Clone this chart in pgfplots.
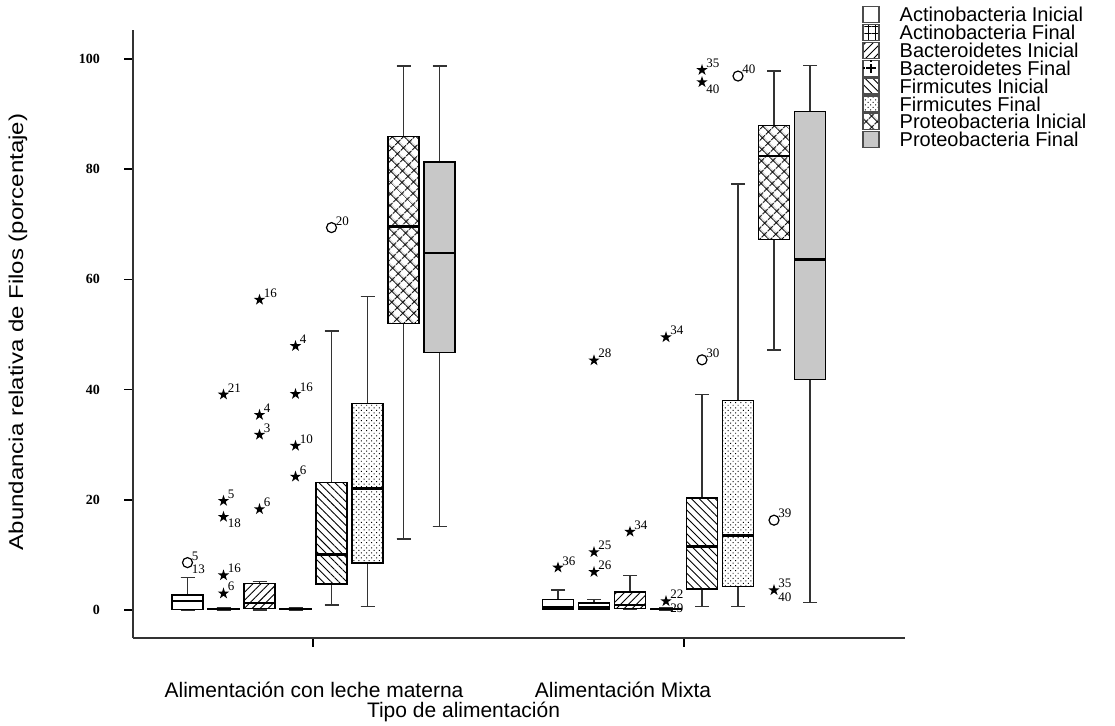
\documentclass[border=0pt]{standalone}
\usepackage{pgfplots}
\pgfplotsset{compat=1.18}
\usepackage{pgfplotstable}
\usepgfplotslibrary{statistics}
\usetikzlibrary{patterns,patterns.meta}
\usepackage{fontspec}
\setmainfont{Liberation Sans}
\newfontfamily\serif{Liberation Serif}

\pgfdeclareplotmark{fstar}{%
 \pgfpathmoveto{\pgfpoint{0pt}{\pgfplotmarksize}}%
 \pgfpathlineto{\pgfpoint{-0.2245\pgfplotmarksize}{0.309\pgfplotmarksize}}%
 \pgfpathlineto{\pgfpoint{-0.951\pgfplotmarksize}{0.309\pgfplotmarksize}}%
 \pgfpathlineto{\pgfpoint{-0.363\pgfplotmarksize}{-0.118\pgfplotmarksize}}%
 \pgfpathlineto{\pgfpoint{-0.588\pgfplotmarksize}{-0.809\pgfplotmarksize}}%
 \pgfpathlineto{\pgfpoint{0pt}{-0.382\pgfplotmarksize}}%
 \pgfpathlineto{\pgfpoint{0.588\pgfplotmarksize}{-0.809\pgfplotmarksize}}%
 \pgfpathlineto{\pgfpoint{0.363\pgfplotmarksize}{-0.118\pgfplotmarksize}}%
 \pgfpathlineto{\pgfpoint{0.951\pgfplotmarksize}{0.309\pgfplotmarksize}}%
 \pgfpathlineto{\pgfpoint{0.2245\pgfplotmarksize}{0.309\pgfplotmarksize}}%
 \pgfpathclose
 \pgfusepathqfill
}

% extreme outliers (stars)
\pgfplotstableread{
x y
223.5 39.1
223.5 19.8
223.5 16.9
223.5 6.3
223.5 3.0
259.5 56.3
259.5 35.4
259.5 31.8
259.5 18.3
295.5 47.9
295.5 39.2
295.5 29.8
295.5 24.2
558 7.7
594 45.3
594 10.5
594 6.9
630 14.2
666 1.6
666 49.5
702 98.0
702 95.8
774 3.6
}\stars
% outliers (circles)
\pgfplotstableread{
x y
187.5 8.6
331.5 69.4
702 45.4
738 96.9
774 16.3
}\circs
% case labels above right
\pgfplotstableread{
x y lab
187.5 8.6 5
223.5 39.1 21
223.5 19.8 5
223.5 6.3 16
223.5 3.0 6
259.5 56.3 16
259.5 35.4 4
259.5 31.8 3
259.5 18.3 6
295.5 47.9 4
295.5 39.2 16
295.5 29.8 10
295.5 24.2 6
331.5 69.4 20
558 7.7 36
594 45.3 28
594 10.5 25
594 6.9 26
630 14.2 34
666 1.6 22
666 49.5 34
702 98.0 35
702 45.4 30
738 96.9 40
774 16.3 39
774 3.6 35
}\labup
% case labels below right
\pgfplotstableread{
x y lab
187.5 8.6 13
223.5 16.9 18
666 1.6 29
702 95.8 40
774 3.6 40
}\labdown

\definecolor{boxgray}{RGB}{200,200,200}
\tikzset{
  pNE/.style={pattern={Lines[angle=45, distance=2.8pt, line width=0.45pt]}},
  pNW/.style={pattern={Lines[angle=-45, distance=2.8pt, line width=0.45pt]}},
  pGrid/.style={pattern={Hatch[angle=0, distance=3.5pt, line width=0.45pt]}},
  pCross/.style={pattern={Hatch[angle=45, distance=4pt, line width=0.5pt]}},
  pDots/.style={pattern={Dots[angle=45, distance=1.8pt, radius=0.35pt]}},
}

\begin{document}
\begin{tikzpicture}
\path[use as bounding box] (0pt,0pt) rectangle (557.5pt,-363pt);
\begin{axis}[
  at={(66.5pt,-319pt)}, anchor=south west,
  scale only axis, width=386pt, height=304pt,
  xmin=133, xmax=905, ymin=-5.08, ymax=105.26,
  axis x line*=bottom, axis y line*=left,
  axis line style={-, line width=0.6pt, black!80},
  xtick={313,684}, xticklabels={},
  ytick={0,20,40,60,80,100}, yticklabels={0,20,40,60,80,100},
  tick align=outside, major tick length=4.5pt,
  tick style={line width=0.8pt, black},
  yticklabel style={font=\serif\bfseries\fontsize{7}{7}\selectfont, xshift=-8.5pt},
  clip=false,
  boxplot/draw direction=y,
  boxplot/box extend=31,
  boxplot/whisker extend=14,
  boxplot/every box/.style={line width=0.7pt},
  boxplot/every whisker/.style={line width=0.7pt, black!80},
  boxplot/every median/.style={line width=1.3pt},
  legend style={at={(axis description cs:0.944,1.04)}, anchor=north west,
    draw=none, fill=none, font=\fontsize{10}{10}\selectfont,
    inner sep=0pt, row sep=0.2pt, column sep=10pt,
    nodes={inner sep=0pt, text height=7.5pt, text depth=0.3pt, anchor=west}},
  legend cell align=left,
  legend image code/.code={\draw[#1, line width=0.7pt, draw=black!70] (0pt,-4pt) rectangle (8pt,4pt);},
]
% ---- Alimentacion con leche materna
\addplot[forget plot, draw=black, fill=white, boxplot prepared={draw position=187.5, lower whisker=0, lower quartile=0.1, median=1.6, upper quartile=2.7, upper whisker=5.9}] coordinates {};
\addplot[forget plot, draw=black, pGrid, boxplot prepared={draw position=223.5, lower whisker=0, lower quartile=0.1, median=0.2, upper quartile=0.3, upper whisker=0.4}] coordinates {};
\addplot[forget plot, draw=black, pNE, boxplot prepared={draw position=259.5, lower whisker=0, lower quartile=0.3, median=1.3, upper quartile=4.8, upper whisker=5.2}] coordinates {};
\addplot[forget plot, draw=black, fill=white, boxplot prepared={draw position=295.5, lower whisker=0, lower quartile=0.1, median=0.2, upper quartile=0.3, upper whisker=0.4}] coordinates {};
\addplot[forget plot, draw=black, pNW, boxplot prepared={draw position=331.5, lower whisker=0.9, lower quartile=4.7, median=10.1, upper quartile=23.1, upper whisker=50.6}] coordinates {};
\addplot[forget plot, draw=black, pDots, boxplot prepared={draw position=367.5, lower whisker=0.6, lower quartile=8.5, median=22.1, upper quartile=37.5, upper whisker=56.9}] coordinates {};
\addplot[forget plot, draw=black, pCross, boxplot prepared={draw position=403.5, lower whisker=12.9, lower quartile=52.0, median=69.6, upper quartile=85.9, upper whisker=98.7}] coordinates {};
\addplot[forget plot, draw=black, fill=boxgray, boxplot prepared={draw position=439.5, lower whisker=15.1, lower quartile=46.7, median=64.8, upper quartile=81.3, upper whisker=98.7}] coordinates {};
% ---- Alimentacion Mixta
\addplot[forget plot, draw=black, fill=white, boxplot prepared={draw position=558, lower whisker=0.1, lower quartile=0.1, median=0.4, upper quartile=1.9, upper whisker=3.6}] coordinates {};
\addplot[forget plot, draw=black, fill=white, boxplot prepared={draw position=594, lower whisker=0.1, lower quartile=0.2, median=0.4, upper quartile=1.3, upper whisker=1.9}] coordinates {};
\addplot[forget plot, draw=black, pNE, boxplot prepared={draw position=630, lower whisker=0.2, lower quartile=0.3, median=0.9, upper quartile=3.3, upper whisker=6.3}] coordinates {};
\addplot[forget plot, draw=black, fill=white, boxplot prepared={draw position=666, lower whisker=0, lower quartile=0.1, median=0.2, upper quartile=0.3, upper whisker=0.4}] coordinates {};
\addplot[forget plot, draw=black, pNW, boxplot prepared={draw position=702, lower whisker=0.6, lower quartile=3.8, median=11.5, upper quartile=20.3, upper whisker=39.1}] coordinates {};
\addplot[forget plot, draw=black, pDots, boxplot prepared={draw position=738, lower whisker=0.6, lower quartile=4.3, median=13.5, upper quartile=38.0, upper whisker=77.3}] coordinates {};
\addplot[forget plot, draw=black, pCross, boxplot prepared={draw position=774, lower whisker=47.2, lower quartile=67.2, median=82.4, upper quartile=87.9, upper whisker=97.8}] coordinates {};
\addplot[forget plot, draw=black, fill=boxgray, boxplot prepared={draw position=810, lower whisker=1.4, lower quartile=41.8, median=63.6, upper quartile=90.5, upper whisker=98.8}] coordinates {};
% ---- outliers
\addplot[forget plot, only marks, mark=fstar, mark size=3pt, black] table[x=x, y=y] {\stars};
\addplot[forget plot, only marks, mark=o, mark size=2.5pt, mark options={line width=0.6pt}, black] table[x=x, y=y] {\circs};
\addplot[forget plot, draw=none, mark=none, nodes near coords, point meta=explicit symbolic,
  every node near coord/.style={anchor=south west, inner sep=0pt, xshift=2pt, yshift=1pt, font=\serif\fontsize{6.5}{7}\selectfont}]
  table[x=x, y=y, meta=lab] {\labup};
\addplot[forget plot, draw=none, mark=none, nodes near coords, point meta=explicit symbolic,
  every node near coord/.style={anchor=north west, inner sep=0pt, xshift=2pt, yshift=-1pt, font=\serif\fontsize{6.5}{7}\selectfont}]
  table[x=x, y=y, meta=lab] {\labdown};
% ---- legend
\addlegendimage{fill=white}
\addlegendimage{pGrid}
\addlegendimage{pNE}
\addlegendimage{legend image code/.code={\draw[line width=0.7pt, draw=black!70, fill=white] (0pt,-4pt) rectangle (8pt,4pt); \draw[line width=0.8pt] (4pt,-2.3pt)--(4pt,2.3pt) (1.7pt,0pt)--(6.3pt,0pt) (0pt,0pt)--(1pt,0pt) (4pt,4pt)--(4pt,3pt);}}
\addlegendimage{pNW}
\addlegendimage{pDots}
\addlegendimage{pCross}
\addlegendimage{fill=boxgray}
\legend{Actinobacteria Inicial, Actinobacteria Final, Bacteroidetes Inicial, Bacteroidetes Final, Firmicutes Inicial, Firmicutes Final, Proteobacteria Inicial, Proteobacteria Final}
\end{axis}
\node[font=\fontsize{10.5}{11}\selectfont] at (157pt,-345pt) {Alimentación con leche materna};
\node[font=\fontsize{10.5}{11}\selectfont] at (311.5pt,-345pt) {Alimentación Mixta};
\node[font=\fontsize{10.5}{11}\selectfont] at (231.75pt,-356pt) {Tipo de alimentación};
\node[font=\fontsize{10}{10}\selectfont, rotate=90] at (9pt,-166pt) {\scalebox{1.2}[1]{Abundancia relativa de Filos (porcentaje)}};
\end{tikzpicture}
\end{document}
